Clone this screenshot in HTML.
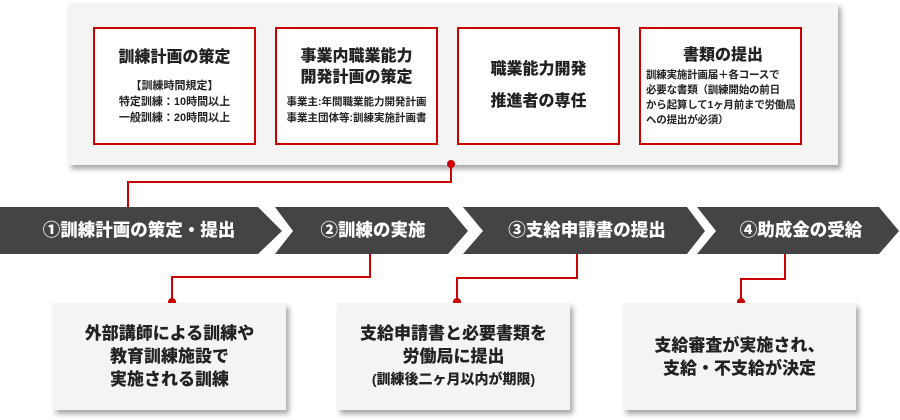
<!DOCTYPE html>
<html><head><meta charset="utf-8"><style>
*{margin:0;padding:0;box-sizing:border-box}
body{width:900px;height:420px;background:#fff;position:relative;overflow:hidden;font-family:"Liberation Sans","Noto Sans CJK JP",sans-serif;font-weight:bold;color:#222}
.panel{position:absolute;left:68px;top:3px;width:770px;height:162px;background:#f4f4f4;box-shadow:3px 4px 5px rgba(0,0,0,.35)}
.rb{position:absolute;top:27px;width:163px;height:118px;border:2px solid #cc0000;background:#fff;text-align:center;display:flex;flex-direction:column;justify-content:center;align-items:center}
.t{font-size:16px;line-height:21px;font-weight:900}
.s{font-size:11px;line-height:16px;margin-top:6px}
.bb{position:absolute;top:303px;width:233px;height:107px;background:#f4f4f4;box-shadow:3px 4px 5px rgba(0,0,0,.35);text-align:center;display:flex;flex-direction:column;justify-content:center;font-size:17px;line-height:23px;font-weight:900}
svg{position:absolute;left:0;top:0}
.ct{position:absolute;top:207px;height:47px;line-height:47px;color:#fff;font-size:17.5px;text-align:center;font-weight:900}
</style></head><body>
<div class="panel"></div>
<div class="rb" style="left:93px"><div class="t">訓練計画の策定</div><div class="s" style="margin-top:10px">【訓練時間規定】<br>特定訓練：10時間以上<br>一般訓練：20時間以上</div></div>
<div class="rb" style="left:275px"><div class="t">事業内職業能力<br>開発計画の策定</div><div class="s" style="font-size:10.5px">事業主:年間職業能力開発計画<br>事業主団体等:訓練実施計画書</div></div>
<div class="rb" style="left:457px"><div class="t" style="line-height:32px">職業能力開発<br>推進者の専任</div></div>
<div class="rb" style="left:639px;align-items:flex-start;padding-left:5px"><div class="t" style="width:100%">書類の提出</div><div class="s" style="font-size:10.5px;line-height:15px;text-align:left;margin-top:2px;letter-spacing:-0.2px">訓練実施計画届＋各コースで<br>必要な書類（訓練開始の前日<br>から起算して1ヶ月前まで労働局<br>への提出が必須）</div></div>
<svg width="900" height="420">
<g fill="#444">
<polygon points="0,207 258,207 282,231 258,254 0,254"/>
<polygon points="275,207 448,207 468,231 448,254 275,254 293,231"/>
<polygon points="463,207 687,207 705,231 687,254 463,254 483,231"/>
<polygon points="697,207 879,207 899,231 879,254 697,254 716,231"/>
</g>
<g stroke="#cc0000" stroke-width="2" fill="none">
<polyline points="451,163 451,182 128,182 128,207"/>
<polyline points="370,254 370,277 172,277 172,303"/>
<polyline points="577,254 577,278 457,278 457,303"/>
<polyline points="785,254 785,279 741,279 741,303"/>
</g>
<g fill="#cc0000">
<circle cx="451" cy="164" r="4"/><circle cx="172" cy="302" r="4"/><circle cx="457" cy="302" r="4"/><circle cx="741" cy="302" r="4"/>
</g>
</svg>
<div class="ct" style="left:0;width:278px">①訓練計画の策定・提出</div>
<div class="ct" style="left:288px;width:170px">②訓練の実施</div>
<div class="ct" style="left:478px;width:218px">③支給申請書の提出</div>
<div class="ct" style="left:712px;width:178px">④助成金の受給</div>
<div class="bb" style="left:53px">外部講師による訓練や<br>教育訓練施設で<br>実施される訓練</div>
<div class="bb" style="left:337px">支給申請書と必要書類を<br>労働局に提出<br><span style="font-size:14px">(訓練後二ヶ月以内が期限)</span></div>
<div class="bb" style="left:623px">支給審査が実施され、<br>支給・不支給が決定</div>
</body></html>
